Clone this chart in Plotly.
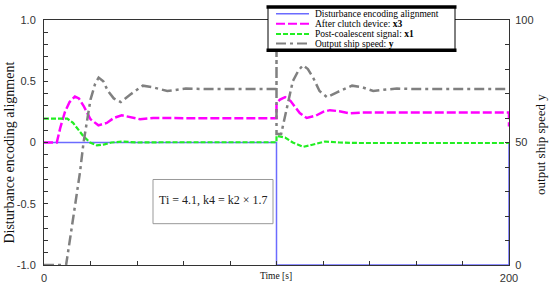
import plotly.graph_objects as go

# ---------------- data ----------------
names = ["Disturbance encoding alignment", "After clutch device: <b>x3</b>",
         "Post-coalescent signal: <b>x1</b>", "Output ship speed: <b>y</b>"]

t_dist = [0, 100, 100, 200, 200]
v_dist = [0, 0, -1.0, -1.0, 0]

t_x3 = [0, 5.5, 7, 9, 11, 13.3, 15, 17, 20, 23.4, 27, 30, 33.4, 37, 41.3, 47, 55, 70, 100,
        100, 101.5, 103.7, 106, 108, 110, 113, 117, 120, 123, 127, 131.6, 137, 150, 200, 200]
v_x3 = [0, 0, 0.12, 0.25, 0.33, 0.375, 0.36, 0.3, 0.19, 0.14, 0.16, 0.2, 0.222, 0.21, 0.19, 0.2, 0.198, 0.198, 0.198,
        0.32, 0.35, 0.37, 0.34, 0.29, 0.24, 0.2, 0.22, 0.25, 0.264, 0.255, 0.238, 0.245, 0.245, 0.245, 0.13]

t_x1 = [0, 10, 12.5, 14.8, 17, 19.8, 22.7, 26, 29, 34, 40, 50, 100,
        100, 103.7, 107, 111.5, 115, 120.9, 127, 135, 200]
v_x1 = [0.195, 0.195, 0.16, 0.107, 0.05, 0.0, -0.024, -0.015, 0.0, 0.008, 0.0, 0.002, 0.002,
        0.055, 0.04, 0.0, -0.035, -0.02, 0.008, 0.0, -0.004, -0.004]

# output ship speed (right axis, 0..100)
t_y = [0, 9.5, 11.5, 13.5, 15.5, 17, 18.5, 20, 22, 23.5, 25.5, 27.5, 30, 33, 37, 42.5, 47, 53, 61, 70, 100,
       100, 100, 102, 104, 107, 109.5, 111.4, 113.5, 116, 118.5, 121.7, 126, 132.5, 137, 141.6, 146, 151.8, 160, 200]
s_y = [0, 0, 12.5, 25, 38, 50, 59, 67.5, 74, 76.5, 75, 71, 68, 66.5, 69.5, 73.2, 72.5, 71, 72, 71.8, 71.8,
       100, 53.5, 53.5, 62, 75, 79.5, 81.5, 80, 76, 71, 68.5, 70.5, 73.2, 72.5, 71, 71.5, 72, 71.8, 71.8]

x_ticks = [0, 20, 40, 60, 80, 100, 120, 140, 160, 180, 200]
x_ticklabels = ["0", "", "", "", "", "", "", "", "", "", "200"]
y_ticks = [round(-1 + 0.1 * i, 1) for i in range(21)]
y_labels = {-1.0: "-1.0", -0.5: "-0.5", 0.0: "0", 0.5: "0.5", 1.0: "1.0"}
y_ticklabels = [y_labels.get(v, "") for v in y_ticks]
y2_ticks = [0, 10, 20, 30, 40, 50, 60, 70, 80, 90, 100]
y2_ticklabels = ["0", "", "", "", "", "50", "", "", "", "", "100"]

note_text = "Ti = 4.1, k4 = k2 × 1.7"

# ---------------- styles ----------------
colors = ["#6b6bff", "#ff00ff", "#22ee22", "#808080"]
widths = [1.5, 2.5, 2.2, 2.5]
dashes = ["solid", "9px,3px", "5px,2px", "10px,4px,3px,4px"]
SERIF = "Liberation Serif"
SANS = "Liberation Sans"

W, H = 550, 296
L, R, T, B = 44, 41, 20, 21
def px(x):
    return (x - L) / (W - L - R)
def py(y):
    return (H - B - y) / (H - T - B)

fig = go.Figure()
fig.add_trace(go.Scatter(x=t_dist, y=v_dist, mode="lines", name=names[0],
                         line=dict(color=colors[0], width=widths[0], dash=dashes[0])))
fig.add_trace(go.Scatter(x=t_x3, y=v_x3, mode="lines", name=names[1],
                         line=dict(color=colors[1], width=widths[1], dash=dashes[1])))
fig.add_trace(go.Scatter(x=t_x1, y=v_x1, mode="lines", name=names[2],
                         line=dict(color=colors[2], width=widths[2], dash=dashes[2])))
fig.add_trace(go.Scatter(x=t_y, y=s_y, mode="lines", name=names[3], yaxis="y2",
                         line=dict(color=colors[3], width=widths[3], dash=dashes[3])))

axcol = "#333333"
fig.update_layout(
    width=W, height=H, margin=dict(l=L, r=R, t=T, b=B),
    paper_bgcolor="white", plot_bgcolor="white", showlegend=False,
    xaxis=dict(range=[0, 200], showline=True, linecolor=axcol, linewidth=1, mirror=True,
               ticks="inside", ticklen=4, tickcolor=axcol, tickvals=x_ticks, ticktext=x_ticklabels,
               tickfont=dict(family=SANS, size=11, color=axcol), showgrid=False, zeroline=False,
               ticklabelstandoff=3),
    yaxis=dict(range=[-1, 1], showline=True, linecolor=axcol, linewidth=1,
               ticks="inside", ticklen=4, tickcolor=axcol, tickvals=y_ticks, ticktext=y_ticklabels,
               tickfont=dict(family=SANS, size=11, color=axcol), showgrid=False, zeroline=False,
               ticklabelstandoff=5),
    yaxis2=dict(range=[0, 100], overlaying="y", side="right", showline=True, linecolor=axcol,
                linewidth=1, ticks="inside", ticklen=4, tickcolor=axcol, tickvals=y2_ticks,
                ticktext=y2_ticklabels, tickfont=dict(family=SANS, size=11, color=axcol),
                showgrid=False, zeroline=False, ticklabelstandoff=3),
)

annotations = [
    dict(text="Disturbance encoding alignment", xref="paper", yref="paper", x=px(10), y=py(158),
         textangle=-90, showarrow=False, font=dict(family=SERIF, size=14, color="#111"),
         xanchor="center", yanchor="middle"),
    dict(text="output ship speed y", xref="paper", yref="paper", x=px(541), y=py(150),
         textangle=-90, showarrow=False, font=dict(family=SERIF, size=13, color="#111"),
         xanchor="center", yanchor="middle"),
    dict(text="Time [s]", xref="paper", yref="paper", x=px(276), y=py(286),
         showarrow=False, font=dict(family=SERIF, size=9.5, color="#111"),
         xanchor="center", yanchor="middle"),
    dict(text=note_text, xref="paper", yref="paper", x=px(213), y=py(207),
         showarrow=False, font=dict(family=SERIF, size=12, color="#222"),
         xanchor="center", yanchor="middle"),
]

shapes = [
    dict(type="rect", xref="paper", yref="paper", x0=px(153), x1=px(273), y0=py(186), y1=py(232),
         line=dict(color="#999999", width=1), fillcolor="rgba(0,0,0,0)", layer="above"),
    # legend box
    dict(type="rect", xref="paper", yref="paper", x0=px(268), x1=px(455), y0=py(6.5), y1=py(51.5),
         line=dict(color="black", width=1), fillcolor="white", layer="above"),
    dict(type="line", xref="paper", yref="paper", x0=px(266.5), x1=px(456.5), y0=py(6.5), y1=py(6.5),
         line=dict(color="black", width=3.5), layer="above"),
    dict(type="line", xref="paper", yref="paper", x0=px(266.5), x1=px(456.5), y0=py(51.5), y1=py(51.5),
         line=dict(color="black", width=3.5), layer="above"),
]
rows = [13.5, 24, 34.5, 44.5]
for i in range(4):
    shapes.append(dict(type="line", xref="paper", yref="paper", x0=px(276), x1=px(309),
                       y0=py(rows[i]), y1=py(rows[i]),
                       line=dict(color=colors[i], width=min(widths[i], 2), dash=dashes[i]),
                       layer="above"))
    annotations.append(dict(text=names[i], xref="paper", yref="paper", x=px(313), y=py(rows[i]),
                            showarrow=False, xanchor="left", yanchor="middle",
                            font=dict(family=SERIF, size=9.5, color="black")))

fig.update_layout(annotations=annotations, shapes=shapes)
fig.write_html("out.html")
